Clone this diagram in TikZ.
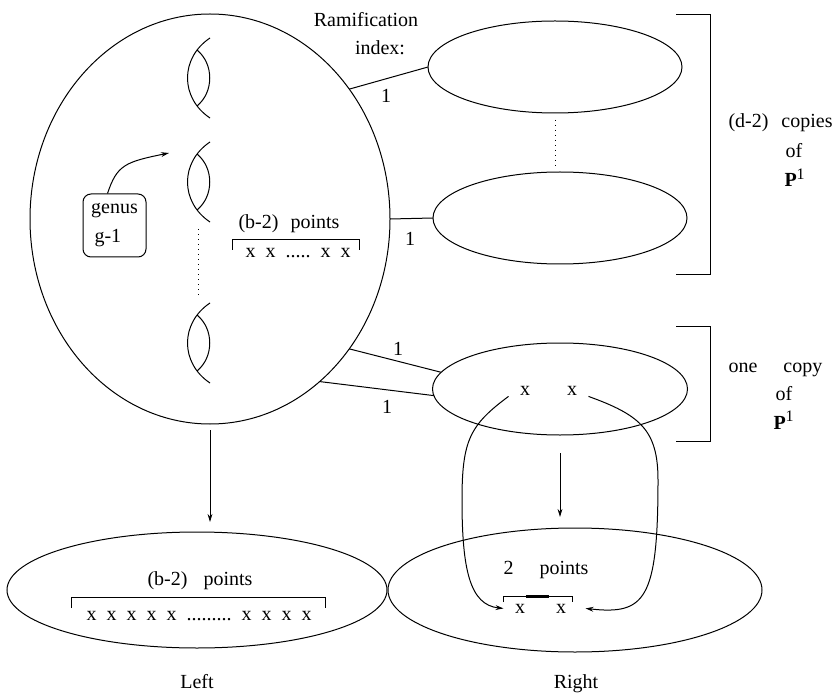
\documentclass[tikz,border=0pt]{standalone}
\usepackage{fontspec}
\setmainfont{Liberation Serif}
\usetikzlibrary{shapes.geometric}
\usetikzlibrary{arrows.meta}
\usetikzlibrary{positioning}

\newcommand{\projline}{\textbf{P}\raisebox{0.8ex}{\footnotesize 1}}

\begin{document}
\begin{tikzpicture}[x=0.5pt, y=-0.5pt, line width=0.5pt,
    curve/.style={draw, ellipse, inner sep=0pt, outer sep=0pt},
    lbl/.style={inner sep=0pt, anchor=base},
    pt/.style={anchor=base, inner xsep=5.5pt, inner ysep=3pt},
    arr/.style={-{Stealth[length=4pt,width=2.4pt]}}]
    \useasboundingbox (0,0) rectangle (840,695);

    % Curves
    \node[curve, minimum width=180pt, minimum height=205pt] (cover) at (210,219) {};
    \node[curve, minimum width=127pt, minimum height=46pt] (top) at (555,67) {};
    \node[curve, minimum width=127pt, minimum height=46pt] (bot) at (560,218) {};
    \node[curve, minimum width=127.5pt, minimum height=46pt] (single) at (560,389) {};
    \node[curve, minimum width=190pt, minimum height=58pt] (left) at (197,590) {};
    \node[curve, minimum width=187pt, minimum height=62pt] (right) at (575,590) {};

    % Handles
    \foreach \h in {78,182,343} {
        \draw (210,\h-40) .. controls (180,\h-20) and (180,\h+20) .. (210,\h+40);
        \draw (197,\h-28) .. controls (214,\h-14) and (214,\h+14) .. (197,\h+28);
    }
    \draw[dotted] (198,229) -- (198,295);

    % Genus
    \node[draw, rounded corners=4pt, minimum width=31.5pt, minimum height=31.5pt, align=left] (genus) at (114.5,225.5) {genus\\[2.5pt]\,g-1};
    \coordinate (gtip) at (169,153);
    \draw[arr] ([xshift=-3.5pt]genus.north) .. controls (117,165) and (125,162) .. (gtip);

    % Points on the cover
    \node[lbl] (bpts) at (289,228) {(b-2)\hspace{6pt}points};
    \node[lbl] (bxs) at (298,257) {x~~x~~.....~~x~~x};
    \draw (232,250) -- (232,240) -- (359,240) -- (359,250);

    % Ramification
    \node[lbl] (ramif) at (366,27) {Ramification};
    \node[lbl] (index) at (380,55) {index:};
    \draw (cover.43) -- (top.west);
    \node[lbl] (r1) at (386,103) {1};
    \draw (cover.east) -- (bot.west);
    \node[lbl] (r2) at (410,246) {1};
    \draw (cover.-43) -- (single.172);
    \node[lbl] (r3) at (398,355) {1};
    \draw (cover.-56) -- (single.183);
    \node[lbl] (r4) at (387,413) {1};

    % (d-2) copies
    \coordinate (botgap) at ([yshift=3pt]bot.north);
    \draw[dotted] ([yshift=-3.5pt]top.south) -- (top.south |- botgap);
    \draw (676,15) -- (710,15) -- (710,274) -- (676,274);
    \node[lbl, anchor=base west] (dcop) at (728,128) {(d-2)\hspace{6.5pt}copies};
    \node[lbl, anchor=base west] (dof) at (785,158) {of};
    \node[lbl, anchor=base west] (dP) at (784,187) {\projline};

    % one copy
    \draw (676,326) -- (710,326) -- (710,441) -- (676,441);
    \node[lbl, anchor=base west] (ocop) at (728,372) {one\hspace{13pt}copy};
    \node[lbl, anchor=base west] (oof) at (775,400) {of};
    \node[lbl, anchor=base west] (oP) at (773,429) {\projline};
    \node[pt] (xa) at (525,395) {x};
    \node[pt] (xb) at (572,395) {x};

    % Left
    \node[lbl] (lpts) at (200,585) {(b-2)\hspace{8pt}points};
    \draw (71,608) -- (71,597) -- (325,597) -- (325,608);
    \node[lbl] (lxs) at (199,620) {x~~x~~x~~x~~x~~.........~~x~~x~~x~~x};
    \node[lbl] (ltxt) at (197,688) {Left};

    % Right
    \node[lbl, anchor=base west] (rpts) at (503,574) {2\hspace{13pt}points};
    \draw (503,602) -- (503,596) -- (572,596) -- (572,602);
    \draw[line width=1.5pt] (526,596) -- (549,596);
    \node[pt] (ya) at (520,613) {x};
    \node[pt] (yb) at (561,613) {x};
    \node[lbl] (rtxt) at (576,688) {Right};

    % Maps
    \coordinate (lefttop) at ([yshift=5pt]left.north);
    \coordinate (righttop) at ([yshift=5.5pt]right.north);
    \draw[arr] ([yshift=-3pt]cover.south) -- (cover.south |- lefttop);
    \draw[arr] ([yshift=-9pt]single.south) -- (single.south |- righttop);
    \draw[arr] (xa.200) .. controls (470,425) and (462,440) .. (462,500) .. controls (462,570) and (470,605) .. (ya.west);
    \draw[arr] (xb.340) .. controls (640,415) and (658,430) .. (658,480) .. controls (658,600) and (645,615) .. ([xshift=4pt]yb.east);
\end{tikzpicture}
\end{document}
